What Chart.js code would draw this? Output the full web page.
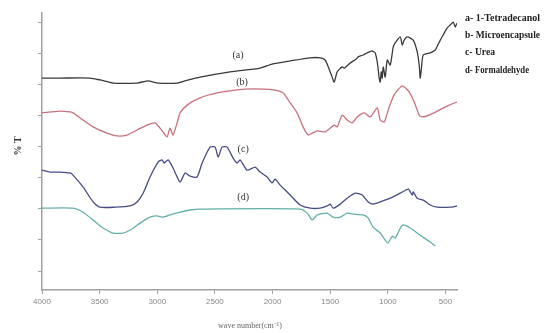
<!DOCTYPE html>
<html>
<head>
<meta charset="utf-8">
<script src="https://cdn.jsdelivr.net/npm/chart.js@4/dist/chart.umd.min.js"></script>
<style>
  html, body { margin: 0; padding: 0; background: #fff; }
</style>
</head>
<body>
<canvas id="ftir-chart" width="544" height="333"></canvas>
<script>
// FTIR spectra (wave number in cm-1, %T)
var aWave = [4000, 3844, 3583, 3497, 3384, 3175, 3080, 2993, 2828, 2759, 2629, 2368, 2108, 2004, 1847, 1674, 1587, 1544, 1517, 1483, 1465, 1439, 1396, 1378, 1327, 1274, 1257, 1214, 1179, 1136, 1110, 1092, 1083, 1075, 1066, 1057, 1049, 1040, 1023, 1005, 979, 953, 936, 892, 875, 858, 832, 780, 745, 728, 719, 710, 693, 632, 589, 571, 545, 519, 485, 458, 432, 415, 400];
var aT = [72.0, 72.0, 72.0, 71.4, 70.4, 70.4, 71.1, 70.4, 70.4, 71.1, 72.3, 74.0, 75.2, 76.5, 77.5, 78.5, 78.5, 77.8, 75.6, 72.3, 70.7, 74.0, 75.6, 75.2, 76.8, 78.1, 78.8, 79.4, 80.1, 80.7, 80.1, 77.2, 74.6, 72.0, 70.7, 74.0, 72.0, 75.6, 72.3, 77.8, 76.2, 82.0, 83.3, 85.2, 82.6, 84.2, 85.2, 84.2, 80.4, 76.2, 72.0, 74.6, 79.4, 80.1, 81.0, 82.3, 84.2, 85.9, 88.1, 89.1, 90.0, 88.4, 89.7];

var bWave = [4000, 3844, 3757, 3731, 3644, 3557, 3436, 3349, 3262, 3175, 3089, 3019, 2976, 2950, 2915, 2889, 2863, 2828, 2802, 2741, 2629, 2481, 2307, 2169, 1995, 1908, 1847, 1787, 1735, 1691, 1656, 1613, 1544, 1465, 1439, 1396, 1353, 1309, 1266, 1205, 1153, 1092, 1066, 1031, 988, 945, 875, 814, 771, 728, 702, 641, 554, 467, 400];
var bT = [60.8, 61.4, 61.1, 60.8, 58.5, 56.3, 54.3, 53.4, 53.7, 55.3, 56.9, 57.6, 55.9, 54.7, 53.1, 55.9, 53.7, 57.6, 60.8, 63.3, 65.6, 67.2, 68.2, 68.5, 68.2, 67.2, 64.0, 60.8, 56.3, 53.7, 54.3, 55.0, 54.7, 56.9, 56.3, 60.1, 58.5, 57.6, 59.5, 60.8, 59.5, 62.4, 58.5, 57.9, 62.7, 66.6, 69.5, 67.5, 64.3, 60.1, 59.5, 60.1, 61.7, 63.3, 64.3];

var cWave = [4000, 3931, 3844, 3757, 3731, 3644, 3557, 3497, 3366, 3236, 3175, 3123, 3063, 2993, 2958, 2941, 2906, 2863, 2802, 2759, 2715, 2655, 2611, 2542, 2498, 2472, 2438, 2394, 2342, 2307, 2281, 2221, 2151, 2108, 2047, 2004, 1978, 1934, 1873, 1821, 1761, 1674, 1587, 1526, 1500, 1474, 1413, 1353, 1283, 1222, 1170, 1127, 1066, 979, 892, 823, 788, 780, 745, 693, 632, 571, 458, 400];
var cT = [42.4, 41.8, 41.8, 41.5, 40.8, 37.0, 32.2, 30.5, 30.5, 30.9, 32.2, 35.0, 40.2, 45.0, 45.7, 44.7, 45.7, 43.1, 38.6, 41.5, 40.5, 40.2, 44.7, 49.8, 49.8, 46.6, 49.8, 49.8, 46.3, 44.7, 45.7, 42.4, 43.4, 41.8, 40.2, 38.3, 39.5, 37.6, 35.4, 33.4, 31.2, 30.2, 30.2, 30.9, 31.5, 30.2, 31.5, 33.4, 35.0, 34.4, 32.2, 31.5, 32.2, 33.4, 35.0, 36.3, 34.4, 35.4, 33.4, 32.8, 31.2, 30.5, 30.5, 30.9];

var dWave = [4000, 3731, 3644, 3557, 3470, 3384, 3297, 3219, 3149, 3063, 3002, 2950, 2889, 2802, 2715, 2629, 1761, 1700, 1656, 1613, 1526, 1474, 1413, 1353, 1300, 1214, 1170, 1127, 1066, 1023, 997, 962, 936, 892, 867, 806, 719, 632, 589];
var dT = [30.2, 30.2, 28.9, 26.4, 23.8, 22.2, 22.2, 23.5, 25.4, 27.3, 27.7, 27.3, 28.0, 28.9, 29.6, 29.9, 29.9, 28.6, 26.4, 28.0, 28.6, 27.3, 27.3, 28.6, 28.3, 28.0, 27.0, 24.1, 22.2, 19.9, 19.0, 21.2, 20.6, 23.8, 24.8, 23.8, 21.5, 19.3, 18.0];

var xTicks = [4000, 3500, 3000, 2500, 2000, 1500, 1000, 500];
var yTicks = [10, 20, 30, 40, 50, 60, 70, 80, 90];
var legendNames = ["a- 1-Tetradecanol", "b- Microencapsule", "c- Urea", "d- Formaldehyde"];
var curveTags = ["(a)", "(b)", "(c)", "(d)"];

function toPoints(waves, values) {
  var pts = [];
  for (var i = 0; i < waves.length; i++) {
    pts.push({ x: waves[i], y: values[i] });
  }
  return pts;
}

function spectrum(waves, values, color) {
  return {
    data: toPoints(waves, values),
    borderColor: color,
    borderWidth: 1.3,
    pointRadius: 0,
    tension: 0.2,
    fill: false,
  };
}

// texte hors des axes : legende, etiquettes (a)-(d), titres
var textPlugin = {
  id: "ftirText",
  afterDraw: function (chart) {
    var ctx = chart.ctx;
    var area = chart.chartArea;
    var xs = chart.scales.x;
    var ys = chart.scales.y;
    ctx.save();

    // legende en haut a droite
    var legendWidths = [75, 75, 30, 64];
    ctx.font = "bold 11px 'Liberation Serif', serif";
    ctx.fillStyle = "#222";
    ctx.textAlign = "left";
    ctx.textBaseline = "middle";
    for (var i = 0; i < legendNames.length; i++) {
      ctx.fillText(legendNames[i], area.right + 8, 18 + i * 17.3, legendWidths[i]);
    }

    // (a) (b) (c) (d) pres des courbes
    var tagPos = [[2300, 79.4], [2265, 70.7], [2255, 49.2], [2255, 33.8]];
    ctx.font = "10px 'Liberation Serif', serif";
    ctx.fillStyle = "#333";
    ctx.textAlign = "center";
    for (var j = 0; j < curveTags.length; j++) {
      ctx.fillText(curveTags[j], xs.getPixelForValue(tagPos[j][0]), ys.getPixelForValue(tagPos[j][1]));
    }

    // titre axe x
    ctx.font = "8px 'Liberation Serif', serif";
    ctx.fillStyle = "#666";
    ctx.fillText("wave number(cm\u207B\u00B9)", 250, 326);

    // titre axe y
    ctx.translate(18, 146);
    ctx.rotate(-Math.PI / 2);
    ctx.font = "bold 10px 'Liberation Serif', serif";
    ctx.fillStyle = "#333";
    ctx.fillText("% T", 0, 0);
    ctx.restore();
  },
};

var ctx = document.getElementById("ftir-chart").getContext("2d");
var ftirChart = new Chart(ctx, {
  type: "line",
  data: {
    datasets: [
      spectrum(aWave, aT, "#3a3a3a"),
      spectrum(bWave, bT, "#c8707c"),
      spectrum(cWave, cT, "#474b85"),
      spectrum(dWave, dT, "#62b0a8"),
    ],
  },
  options: {
    responsive: false,
    animation: false,
    layout: { padding: { left: 0, right: 87, top: 13, bottom: 0 } },
    plugins: { legend: { display: false }, tooltip: { enabled: false } },
    scales: {
      x: {
        type: "linear",
        reverse: true,
        min: 400,
        max: 4000,
        afterBuildTicks: function (scale) {
          scale.ticks = xTicks.map(function (v) { return { value: v }; });
        },
        afterFit: function (scale) { scale.height = 43; },
        grid: { drawOnChartArea: false, drawTicks: true, tickLength: 4, color: "#a0a0a0" },
        border: { display: true, color: "#a0a0a0", width: 1.5 },
        ticks: {
          color: "#888",
          padding: 3,
          maxRotation: 0,
          font: { size: 8, family: "'Liberation Sans', sans-serif" },
          callback: function (value) { return String(value); },
        },
      },
      y: {
        type: "linear",
        min: 3.9,
        max: 92.9,
        afterBuildTicks: function (scale) {
          scale.ticks = yTicks.map(function (v) { return { value: v }; });
        },
        afterFit: function (scale) { scale.width = 42; },
        grid: { drawOnChartArea: false, drawTicks: true, tickLength: 4, color: "#a0a0a0" },
        border: { display: true, color: "#a0a0a0", width: 1.5 },
        ticks: { display: false },
      },
    },
  },
  plugins: [textPlugin],
});
</script>
</body>
</html>
